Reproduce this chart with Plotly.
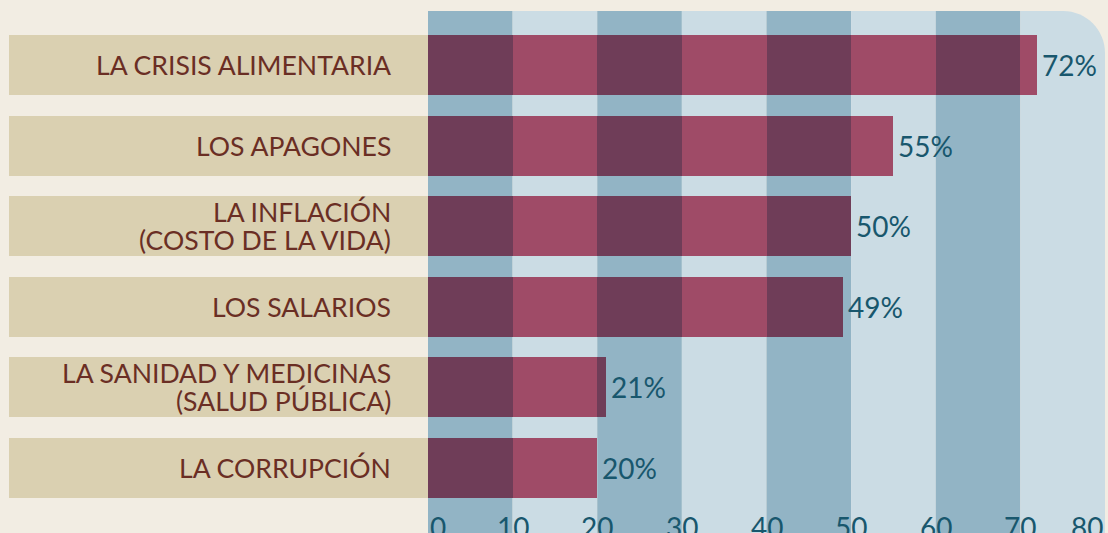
import plotly.graph_objects as go

# ---- data ----
label_lines = [
    ["LA CRISIS ALIMENTARIA"],
    ["LOS APAGONES"],
    ["LA INFLACIÓN", "(COSTO DE LA VIDA)"],
    ["LOS SALARIOS"],
    ["LA SANIDAD Y MEDICINAS", "(SALUD PÚBLICA)"],
    ["LA CORRUPCIÓN"],
]
categories = [" ".join(l) for l in label_lines]
values = [72, 55, 50, 49, 21, 20]
tick_values = [0, 10, 20, 30, 40, 50, 60, 70, 80]

# ---- style ----
BG = "#f2ede3"
BOX = "#dad0b1"
BAND_DARK = "#92b4c5"
BAND_LIGHT = "#cbdce4"
BAR_PINK = "#9f4b67"
BAR_DARK = "#6f3d58"
TXT_BROWN = "#6a2e24"
TXT_TEAL = "#18576d"
FONT = "Lato"
FS_LABEL = 26.6
FS_VALUE = 28

W, H = 1108, 533
PX_PER_UNIT = 677 / 80.0
X_MIN = -428 / PX_PER_UNIT
X_MAX = 80 + 3 / PX_PER_UNIT
BOX_LEFT = (9 - 428) / PX_PER_UNIT
LABEL_RIGHT = (390 - 428) / PX_PER_UNIT
BAR_W = 0.744

fig = go.Figure()

# label boxes on the left
fig.add_trace(go.Bar(
    y=categories, x=[-BOX_LEFT] * len(categories), base=[BOX_LEFT] * len(categories),
    orientation="h", width=BAR_W, marker=dict(color=BOX, line=dict(width=0)),
    hoverinfo="skip", showlegend=False))

# main bars
fig.add_trace(go.Bar(
    y=categories, x=values, base=[0] * len(values), orientation="h", width=BAR_W,
    marker=dict(color=BAR_PINK, line=dict(width=0)), hoverinfo="skip", showlegend=False))

# darker bar segments over the dark bands
for lo in range(0, 80, 20):
    hi = lo + 10
    seg = [max(0, min(v, hi) - lo) for v in values]
    fig.add_trace(go.Bar(
        y=categories, x=seg, base=[lo] * len(values), orientation="h", width=BAR_W,
        marker=dict(color=BAR_DARK, line=dict(width=0)), hoverinfo="skip", showlegend=False))

# background bands
shapes = []
for i, lo in enumerate(tick_values[:-1]):
    hi = tick_values[i + 1]
    color = BAND_DARK if i % 2 == 0 else BAND_LIGHT
    if hi == tick_values[-1]:
        rx = 42 / PX_PER_UNIT
        ry = 42 / (H - 11)
        k = 0.5523
        path = (f"M {lo},0 L {lo},1 L {hi - rx},1 "
                f"C {hi - rx + k * rx},1 {hi},{1 - ry + k * ry} {hi},{1 - ry} "
                f"L {hi},0 Z")
        shapes.append(dict(type="path", xref="x", yref="paper", path=path,
                           fillcolor=color, line=dict(width=0), layer="below"))
    else:
        shapes.append(dict(type="rect", xref="x", yref="paper", x0=lo, x1=hi, y0=0, y1=1,
                           fillcolor=color, line=dict(width=0), layer="below"))

annotations = []
# category labels
for cat, lines in zip(categories, label_lines):
    n = len(lines)
    for j, line in enumerate(lines):
        shift = (j - (n - 1) / 2) * -28
        annotations.append(dict(x=LABEL_RIGHT, y=cat, xref="x", yref="y", text=line,
                                xanchor="right", yanchor="middle", yshift=shift, xshift=3,
                                showarrow=False,
                                font=dict(family=FONT, size=FS_LABEL, color=TXT_BROWN)))
# value labels
for cat, v in zip(categories, values):
    annotations.append(dict(x=v, y=cat, xref="x", yref="y", text=f"{v}%",
                            xanchor="left", yanchor="middle", xshift=3, showarrow=False,
                            font=dict(family=FONT, size=FS_VALUE, color=TXT_TEAL)))
# tick labels (bottom, partly cut as in the original)
for t in tick_values:
    anchor = "left" if t == tick_values[0] else ("right" if t == tick_values[-1] else "center")
    annotations.append(dict(x=t, y=0, xref="x", yref="paper", text=str(t),
                            xanchor=anchor, yanchor="bottom", yshift=-13, showarrow=False,
                            font=dict(family=FONT, size=FS_VALUE, color=TXT_TEAL)))

fig.update_layout(
    width=W, height=H,
    paper_bgcolor=BG, plot_bgcolor=BG,
    margin=dict(l=0, r=0, t=11, b=0),
    barmode="overlay", bargap=0,
    showlegend=False,
    shapes=shapes, annotations=annotations,
    xaxis=dict(range=[X_MIN, X_MAX], showgrid=False, zeroline=False, showticklabels=False,
               showline=False, fixedrange=True),
    yaxis=dict(type="category", categoryorder="array", categoryarray=categories,
               range=[5.806, -0.670], showgrid=False, zeroline=False, showticklabels=False,
               showline=False, fixedrange=True),
    hovermode=False,
)

fig.write_html("out.html", config={"displayModeBar": False},
               post_script="document.body.style.margin='0';document.body.style.overflow='hidden';")
